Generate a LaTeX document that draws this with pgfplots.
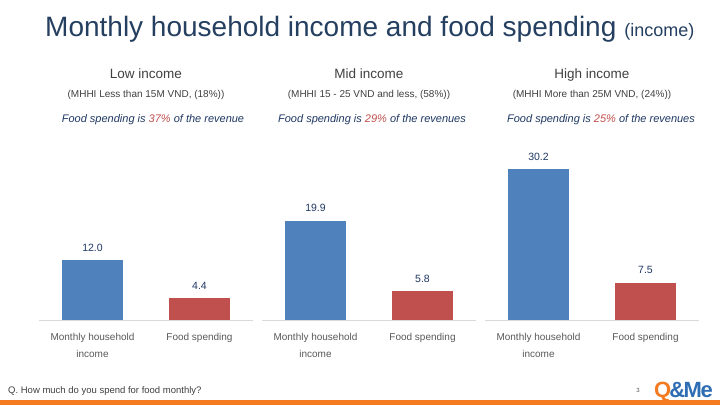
\documentclass[border=0pt]{standalone}
\usepackage{pgfplots}
\pgfplotsset{compat=1.18}
\usepackage{fontspec}
\setmainfont{Liberation Sans}

\definecolor{barblue}{HTML}{4F81BD}
\definecolor{barred}{HTML}{C0504D}
\definecolor{navy}{HTML}{1F3864}
\definecolor{titlenavy}{HTML}{243F60}
\definecolor{headgray}{HTML}{404040}
\definecolor{tickgray}{HTML}{595959}
\definecolor{axisgray}{HTML}{D9D9D9}
\definecolor{qmorange}{HTML}{F47B20}
\definecolor{qmblue}{HTML}{2E6DB4}

\pgfplotsset{
  panel/.style={
    width=214pt, height=200pt, scale only axis,
    anchor=south west,
    xmin=-0.5, xmax=1.5, ymin=0, ymax=40,
    axis y line=none, axis x line*=bottom,
    x axis line style={draw=axisgray, line width=0.8pt, -},
    xtick={0,1}, major tick length=0pt,
    xticklabels={{Monthly household\\income}, Food spending},
    xticklabel style={align=center, font=\fontsize{10}{17}\selectfont, text=tickgray, yshift=-10pt},
    ybar, bar width=61pt, bar shift=0pt,
    nodes near coords,
    nodes near coords style={font=\fontsize{10.5}{12}\selectfont, text=navy, yshift=5pt},
    /pgf/number format/.cd, fixed, fixed zerofill, precision=1, assume math mode=true,
    /pgfplots/.cd, clip=false,
  }
}

\begin{document}
\begin{tikzpicture}
\useasboundingbox (0,0) rectangle (720pt,405pt);
\fill[white] (0,0) rectangle (720pt,405pt);

% title
\node[anchor=base west, inner sep=0, text=titlenavy] at (45pt,368pt)
  {\fontsize{28}{30}\selectfont Monthly household income and food spending \fontsize{18}{20}\selectfont(income)};

% panel headers
\foreach \cx/\name/\sub/\ix/\pct/\tail in {
  146/Low income/(MHHI Less than 15M VND{,} (18\%))/153/37/revenue,
  369/Mid income/(MHHI 15 - 25 VND and less{,} (58\%))/372/29/revenues,
  592/High income/(MHHI More than 25M VND{,} (24\%))/601/25/revenues}{
  \node[anchor=base, inner sep=0, text=headgray] at (\cx pt,326pt) {\fontsize{13.5}{15}\selectfont \name};
  \node[anchor=base, inner sep=0, text=headgray] at (\cx pt,307pt) {\fontsize{10}{12}\selectfont \sub};
  \node[anchor=base, inner sep=0, text=navy] at (\ix pt,282pt)
    {\fontsize{11}{13}\selectfont\itshape Food spending is \textcolor{barred}{\pct\%} of the \tail};
}

% low income
\begin{axis}[panel, at={(39pt,85pt)}]
\addplot[fill=barblue, draw=none] coordinates {(0,12.0)};
\addplot[fill=barred, draw=none] coordinates {(1,4.4)};
\end{axis}

% mid income
\begin{axis}[panel, at={(262pt,85pt)}]
\addplot[fill=barblue, draw=none] coordinates {(0,19.9)};
\addplot[fill=barred, draw=none] coordinates {(1,5.8)};
\end{axis}

% high income
\begin{axis}[panel, at={(485pt,85pt)}]
\addplot[fill=barblue, draw=none] coordinates {(0,30.2)};
\addplot[fill=barred, draw=none] coordinates {(1,7.5)};
\end{axis}

% footer
\node[anchor=base west, inner sep=0, text=headgray] at (8pt,12pt)
  {\fontsize{9.5}{11}\selectfont Q. How much do you spend for food monthly?};
\node[anchor=base, inner sep=0, text=tickgray] at (638pt,13pt) {\fontsize{6}{7}\selectfont 3};
\node[anchor=base west, inner sep=0] at (654pt,8pt)
  {\fontsize{22}{24}\selectfont\bfseries\textcolor{qmorange}{Q}\kern-2pt\textcolor{qmblue}{\&\kern-1.5pt M\kern-1.5pt e}};
\fill[qmorange] (0,0) rectangle (720pt,5pt);
\end{tikzpicture}
\end{document}
